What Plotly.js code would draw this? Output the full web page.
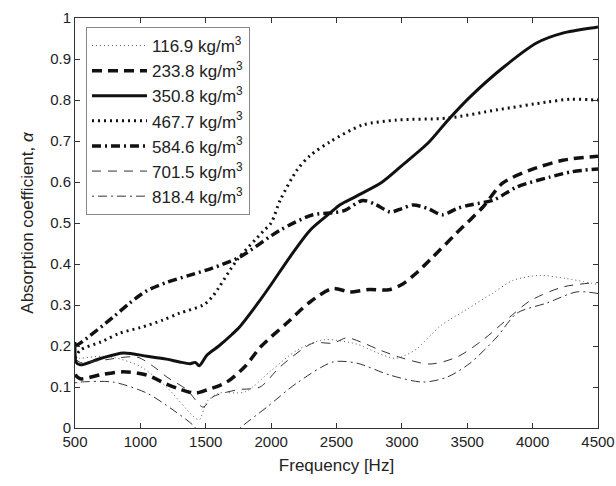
<!DOCTYPE html>
<html>
<head>
<meta charset="utf-8">
<script src="https://cdn.plot.ly/plotly-3.0.1.min.js"></script>
<style>html,body{margin:0;padding:0;background:#fff}#chart{width:616px;height:486px}</style>
</head>
<body>
<div id="chart"></div>
<script>
// Series names
const names = ["116.9 kg/m<sup>3</sup>","233.8 kg/m<sup>3</sup>","350.8 kg/m<sup>3</sup>","467.7 kg/m<sup>3</sup>","584.6 kg/m<sup>3</sup>","701.5 kg/m<sup>3</sup>","818.4 kg/m<sup>3</sup>"];

// 116.9 kg/m3
const f1169 = [500,540,700,800,1000,1200,1400,1450,1510,1600,1800,2000,2200,2400,2650,2800,2950,3100,3300,3500,3700,3850,4050,4250,4500];
const a1169 = [0.17,0.17,0.175,0.172,0.15,0.1,0.03,0.02,0.065,0.085,0.088,0.14,0.19,0.215,0.205,0.185,0.17,0.19,0.25,0.29,0.33,0.36,0.372,0.365,0.35];
// 233.8 kg/m3
const f2338 = [500,540,700,870,1050,1200,1300,1420,1510,1660,1800,1920,2120,2300,2470,2600,2750,2900,3000,3100,3215,3420,3620,3770,3980,4230,4500];
const a2338 = [0.13,0.12,0.13,0.137,0.129,0.107,0.095,0.085,0.093,0.112,0.15,0.198,0.256,0.308,0.34,0.332,0.338,0.337,0.35,0.375,0.41,0.476,0.539,0.597,0.629,0.653,0.663];
// 350.8 kg/m3
const f3508 = [500,510,540,700,870,1050,1200,1300,1380,1420,1450,1510,1600,1700,1760,1900,2000,2150,2300,2450,2530,2650,2850,3000,3200,3350,3520,3770,4030,4230,4480,4500];
const a3508 = [0.21,0.16,0.154,0.17,0.183,0.175,0.168,0.161,0.157,0.16,0.152,0.178,0.2,0.228,0.247,0.305,0.35,0.42,0.483,0.524,0.545,0.565,0.6,0.64,0.695,0.75,0.807,0.878,0.939,0.963,0.977,0.978];
// 467.7 kg/m3
const f4677 = [500,540,700,840,1000,1170,1300,1480,1550,1740,1940,2000,2070,2200,2300,2450,2700,2960,3350,3730,4110,4290,4480,4500];
const a4677 = [0.17,0.19,0.21,0.231,0.245,0.263,0.28,0.3,0.32,0.41,0.48,0.5,0.556,0.63,0.665,0.698,0.739,0.751,0.756,0.776,0.795,0.802,0.8,0.8];
// 584.6 kg/m3
const f5846 = [500,540,790,920,1050,1200,1380,1550,1760,2070,2320,2470,2560,2700,2800,2910,3000,3085,3200,3310,3420,3520,3700,3880,4130,4300,4500];
const a5846 = [0.2,0.207,0.27,0.305,0.335,0.355,0.373,0.39,0.417,0.483,0.52,0.525,0.53,0.555,0.545,0.527,0.535,0.544,0.535,0.52,0.535,0.544,0.556,0.588,0.612,0.625,0.632];
// 701.5 kg/m3
const f7015 = [500,540,700,974,1100,1204,1357,1479,1555,1739,1915,2068,2320,2473,2580,2700,2833,3009,3215,3421,3620,3827,3980,4232,4500];
const a7015 = [0.17,0.16,0.165,0.173,0.15,0.124,0.093,0.051,0.076,0.093,0.1,0.149,0.207,0.207,0.22,0.208,0.19,0.17,0.156,0.173,0.215,0.271,0.31,0.344,0.355];
// 818.4 kg/m3
const f8184 = [500,540,791,1050,1250,1402,1500,1600,1700,1762,1968,2198,2473,2657,2909,3162,3345,3521,3727,3880,4110,4339,4500];
const a8184 = [0.11,0.112,0.112,0.085,0.044,0.007,-0.03,-0.04,-0.02,0,0.051,0.11,0.161,0.158,0.129,0.112,0.124,0.158,0.222,0.28,0.305,0.332,0.328];

const xTicks = [500,1000,1500,2000,2500,3000,3500,4000,4500];
const yTicks = [0,0.1,0.2,0.3,0.4,0.5,0.6,0.7,0.8,0.9,1];

const xs = [f1169,f2338,f3508,f4677,f5846,f7015,f8184];
const ys = [a1169,a2338,a3508,a4677,a5846,a7015,a8184];
const styles = [
  {color:'#555', width:1, dash:'1px,3px'},
  {color:'#111', width:3.5, dash:'10px,6px'},
  {color:'#111', width:3, dash:'solid'},
  {color:'#111', width:3, dash:'2px,4px'},
  {color:'#111', width:3.5, dash:'9px,4px,2px,4px'},
  {color:'#333', width:1, dash:'9px,7px'},
  {color:'#333', width:1, dash:'2px,4px,9px,4px'}
];

const traces = xs.map((x,i)=>({
  x: x, y: ys[i], type:'scatter', mode:'lines', name: names[i],
  line: Object.assign({shape:'spline', smoothing:0.8}, styles[i])
}));

const font = {family:'"Liberation Sans", Arial, sans-serif', color:'#222'};
const layout = {
  width:616, height:486,
  margin:{l:75, r:18, t:18, b:58},
  paper_bgcolor:'#fff', plot_bgcolor:'#fff',
  font: Object.assign({size:15}, font),
  showlegend:true,
  legend:{x:0.021, y:0.978, xanchor:'left', yanchor:'top', bgcolor:'#fff', bordercolor:'#888', borderwidth:1,
    font: Object.assign({size:17}, font), itemwidth:55, tracegroupgap:0},
  xaxis:{range:[500,4500], tickvals:xTicks, ticks:'inside', ticklen:5, tickcolor:'#333', showline:true, linecolor:'#333', mirror:'ticks', showgrid:false, zeroline:false,
    title:{text:'Frequency [Hz]', font:Object.assign({size:17}, font), standoff:10}, tickfont:Object.assign({size:15}, font)},
  yaxis:{range:[0,1], tickvals:yTicks, ticks:'inside', ticklen:5, tickcolor:'#333', showline:true, linecolor:'#333', mirror:'ticks', showgrid:false, zeroline:false,
    title:{text:'Absorption coefficient, <i>α</i>', font:Object.assign({size:17}, font), standoff:12}, tickfont:Object.assign({size:15}, font)}
};
Plotly.newPlot('chart', traces, layout, {displayModeBar:false, staticPlot:true});
</script>
</body>
</html>
